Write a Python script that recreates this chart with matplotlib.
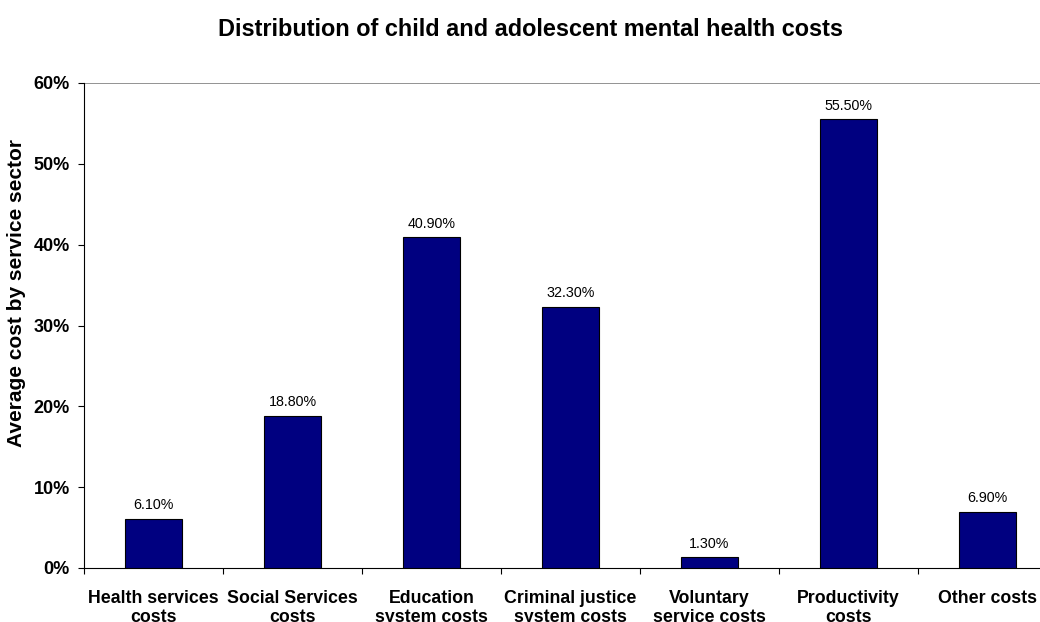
import numpy as np
import matplotlib
matplotlib.use("Agg")
import matplotlib.pyplot as plt

# Chart data
categories = ["Health services\ncosts", "Social Services\ncosts", "Education\nsystem costs",
              "Criminal justice\nsystem costs", "Voluntary\nservice costs",
              "Productivity\ncosts", "Other costs"]
values = [6.1, 18.8, 40.9, 32.3, 1.3, 55.5, 6.9]
yticks = [0, 10, 20, 30, 40, 50, 60]

plt.rcParams['font.family'] = ['Liberation Sans', 'DejaVu Sans']

fig = plt.figure(figsize=(10.4, 6.22), dpi=100)
# plot area runs past the right edge (cropped like the original)
ax = fig.add_axes([84/1040, 1 - 568/622, (1057 - 84)/1040, (568 - 83)/622])

x = np.arange(len(values))
ax.bar(x, values, width=0.41, color="#000080", edgecolor="black", linewidth=0.8, zorder=3)

for xi, v in zip(x, values):
    ax.text(xi, v + 0.85, f"{v:.2f}%", ha="center", va="bottom", fontsize=10.3)

ax.set_xlim(-0.5, len(values) - 0.5)
ax.set_ylim(0, 60)
ax.set_yticks(yticks)
ax.set_yticklabels([f"{t}%" for t in yticks], fontweight="bold", fontsize=13)
ax.axhline(60, color="gray", linewidth=1.2, zorder=2)

# boundaries as major ticks, labels on minor ticks at the centres
ax.set_xticks(np.arange(-0.5, len(values)), labels=[])
ax.set_xticks(x, labels=categories, minor=True)
ax.tick_params(axis="x", which="major", length=4.3, direction="out")
ax.tick_params(axis="x", which="minor", length=0, pad=15.5)
for lab in ax.get_xticklabels(minor=True):
    lab.set_fontweight("bold")
    lab.set_fontsize(12.8)
    lab.set_linespacing(1.2)
ax.tick_params(axis="y", length=4.3, pad=5.8, direction="out")

for s in ["top", "right"]:
    ax.spines[s].set_visible(False)

ax.set_ylabel("Average cost by service sector", fontweight="bold", fontsize=15)
ax.yaxis.set_label_coords(-0.06, 0.568)

fig.text(530/1040, 1 - 30/622, "Distribution of child and adolescent mental health costs",
         ha="center", va="center", fontweight="bold", fontsize=16.9)

fig.savefig("out.png", dpi=100)
